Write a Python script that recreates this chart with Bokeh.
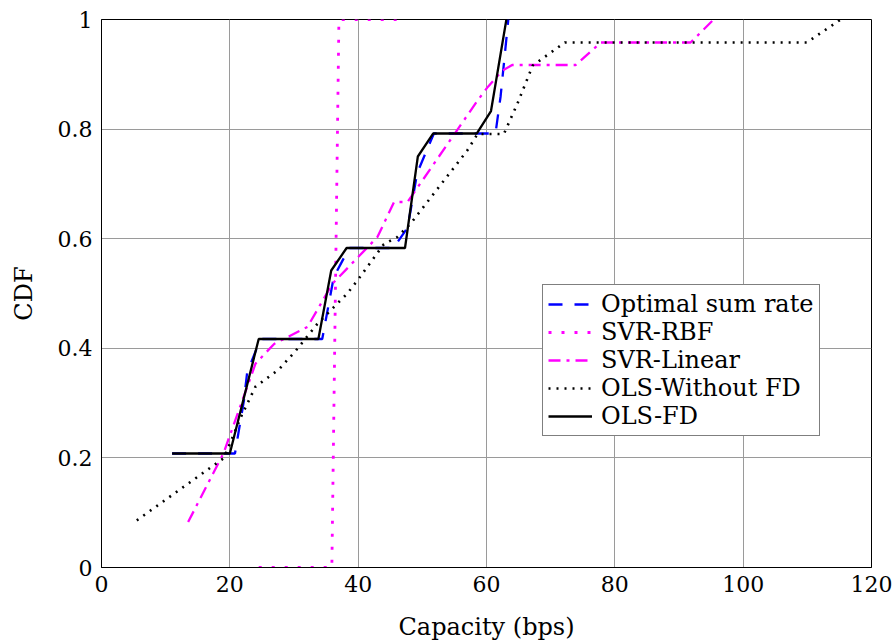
from bokeh.plotting import figure
from bokeh.models import Legend, LegendItem, CustomJSTickFormatter, Range1d, FixedTicker
from bokeh.embed import file_html
from bokeh.resources import INLINE

# ---- data ----
opt_x = [11.0, 20.8, 22.2, 22.7, 24.2, 25.0, 34.4, 36.2, 38.6, 45.5, 47.7, 49.2, 51.8, 61.4, 62.2, 63.4]
opt_y = [0.208, 0.208, 0.305, 0.356, 0.40, 0.417, 0.417, 0.53, 0.583, 0.583, 0.62, 0.72, 0.792, 0.792, 0.86, 1.0]

rbf_x = [24.5, 35.9, 37.0, 46.0]
rbf_y = [0.0, 0.0, 1.0, 1.0]

lin_x = [13.5, 19.0, 24.0, 26.9, 32.1, 36.0, 43.0, 45.6, 47.7, 58.6, 60.2, 62.5, 64.0, 73.9, 77.8, 91.8, 95.4]
lin_y = [0.083, 0.208, 0.372, 0.408, 0.439, 0.518, 0.603, 0.667, 0.667, 0.852, 0.877, 0.907, 0.917, 0.917, 0.958, 0.958, 1.0]

olsw_x = [5.5, 19.1, 21.7, 24.0, 27.7, 30.3, 33.6, 38.3, 39.9, 44.0, 46.1, 48.2, 57.0, 58.6, 62.7, 64.8, 67.2, 72.2, 109.9, 115.2]
olsw_y = [0.086, 0.2, 0.274, 0.33, 0.362, 0.396, 0.444, 0.5, 0.524, 0.59, 0.603, 0.628, 0.761, 0.791, 0.791, 0.846, 0.916, 0.958, 0.958, 1.0]

olsfd_x = [11.0, 20.0, 24.5, 33.8, 35.8, 38.2, 47.3, 49.3, 51.7, 58.5, 60.7, 63.1]
olsfd_y = [0.208, 0.208, 0.417, 0.417, 0.542, 0.583, 0.583, 0.75, 0.792, 0.792, 0.833, 1.0]

x_ticks = [0, 20, 40, 60, 80, 100, 120]
y_ticks = [0, 0.2, 0.4, 0.6, 0.8, 1.0]

FONT = "DejaVu Serif"
FS = "22px"
FS_BIG = "24px"

p = figure(width=895, height=644, output_backend="svg", toolbar_location=None,
           x_range=Range1d(0, 120), y_range=Range1d(0, 1),
           min_border_left=101, min_border_right=24, min_border_top=19, min_border_bottom=77)

p.outline_line_color = "black"
p.outline_line_width = 1
p.outline_line_alpha = 1

p.xaxis.ticker = FixedTicker(ticks=x_ticks)
p.yaxis.ticker = FixedTicker(ticks=y_ticks)
p.yaxis.formatter = CustomJSTickFormatter(code="return String(Math.round(tick*10)/10);")
for ax in (p.xaxis, p.yaxis):
    ax.major_tick_out = 0
    ax.major_tick_in = 0
    ax.minor_tick_out = 0
    ax.minor_tick_in = 0
    ax.axis_line_color = "black"
    ax.major_label_text_font = FONT
    ax.major_label_text_font_size = FS
    ax.major_label_text_color = "black"
    ax.axis_label_text_font = FONT
    ax.axis_label_text_font_size = FS_BIG
    ax.axis_label_text_font_style = "normal"
    ax.axis_label_text_color = "black"
p.xaxis.axis_label = "Capacity (bps)"
p.yaxis.axis_label = "CDF"
p.xaxis.major_label_standoff = 8
p.yaxis.major_label_standoff = 9
p.xaxis.axis_label_standoff = 18
p.yaxis.axis_label_standoff = 17

p.grid.grid_line_color = "#9a9a9a"
p.grid.grid_line_width = 1

r_opt = p.line(opt_x, opt_y, line_color="#0000ff", line_width=2.3, line_dash="14 12")
r_rbf = p.line(rbf_x, rbf_y, line_color="#ff00ff", line_width=2.8, line_dash="3 10")
r_lin = p.line(lin_x, lin_y, line_color="#ff00ff", line_width=2.3, line_dash="12 6 3 6")
r_olsw = p.line(olsw_x, olsw_y, line_color="black", line_width=2.6, line_dash="2 6")
r_fd = p.line(olsfd_x, olsfd_y, line_color="black", line_width=2.3)

legend = Legend(items=[
    LegendItem(label="Optimal sum rate", renderers=[r_opt]),
    LegendItem(label="SVR-RBF", renderers=[r_rbf]),
    LegendItem(label="SVR-Linear", renderers=[r_lin]),
    LegendItem(label="OLS-Without FD", renderers=[r_olsw]),
    LegendItem(label="OLS-FD", renderers=[r_fd]),
], location=(441, 131))
legend.label_text_font = FONT
legend.label_text_font_size = FS_BIG
legend.label_text_color = "black"
legend.glyph_width = 44
legend.glyph_height = 24
legend.label_height = 24
legend.label_standoff = 9
legend.spacing = -2
legend.padding = 5
legend.margin = 0
legend.border_line_color = "black"
legend.border_line_width = 1
legend.background_fill_alpha = 1
p.add_layout(legend, "center")

open("out.html", "w").write(file_html(p, INLINE))
